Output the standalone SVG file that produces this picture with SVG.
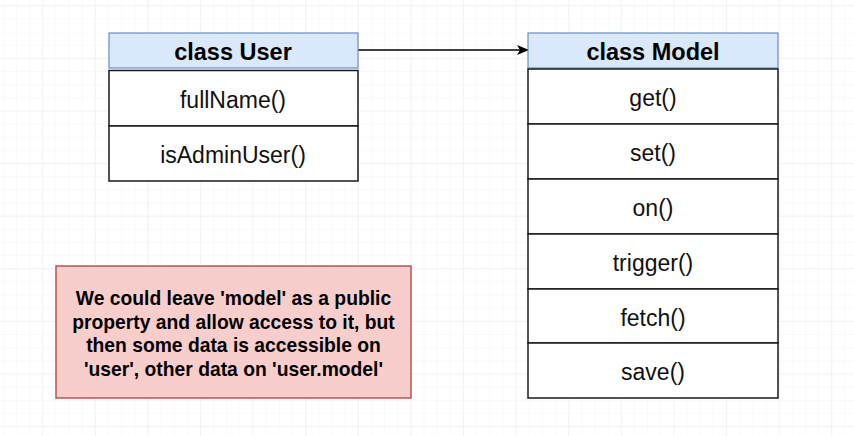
<svg xmlns="http://www.w3.org/2000/svg" width="854" height="436" viewBox="0 0 854 436">
  <defs>
    <pattern id="minor" x="2.75" y="5.3" width="13.15" height="13.15" patternUnits="userSpaceOnUse">
      <path d="M0 0H13.15M0 0V13.15" fill="none" stroke="#f4f4f4" stroke-width="1"/>
    </pattern>
    <pattern id="major" x="42.2" y="5.3" width="52.6" height="52.6" patternUnits="userSpaceOnUse">
      <path d="M0 0H52.6M0 0V52.6" fill="none" stroke="#ebebeb" stroke-width="1"/>
    </pattern>
    <marker id="arrow" markerWidth="12" markerHeight="10" refX="11" refY="5" orient="auto" markerUnits="userSpaceOnUse">
      <path d="M0 0 L12 5 L0 10 L3 5 Z" fill="#000"/>
    </marker>
    <style>
      .hdr { fill: #dae8fc; stroke: #6c8ebf; stroke-width: 1.2; }
      .row { fill: #ffffff; stroke: #1a1a1a; stroke-width: 1.5; }
      .htxt { font-family: "Liberation Sans", Arial, sans-serif; font-weight: bold; font-size: 23.5px; fill: #000; text-anchor: middle; }
      .mtxt { font-family: "Liberation Sans", Arial, sans-serif; font-size: 23px; fill: #111; text-anchor: middle; }
      .note { fill: #f8cecc; stroke: #b85450; stroke-width: 1.5; }
      .ntxt { font-family: "Liberation Sans", Arial, sans-serif; font-weight: bold; font-size: 19.3px; fill: #000; text-anchor: middle; }
    </style>
  </defs>
  <rect width="854" height="436" fill="#ffffff"/>
  <rect width="854" height="436" fill="url(#minor)"/>
  <rect width="854" height="436" fill="url(#major)"/>

  <g id="connectors">
    <line x1="358" y1="50" x2="528" y2="50" stroke="#000" stroke-width="1.5" marker-end="url(#arrow)"/>
  </g>

  <g id="user">
    <rect class="hdr" x="109" y="33" width="249" height="35"/>
    <text class="htxt" x="233" y="59.5">class User</text>
    <rect class="row" x="109" y="70.5" width="249" height="55.5"/>
    <text class="mtxt" x="233" y="107.5">fullName()</text>
    <rect class="row" x="109" y="126" width="249" height="55"/>
    <text class="mtxt" x="233" y="162.5">isAdminUser()</text>
  </g>

  <g id="model">
    <rect class="hdr" x="528" y="33" width="250" height="35"/>
    <text class="htxt" x="653" y="59.5">class Model</text>
    <rect class="row" x="528" y="69" width="250" height="55"/>
    <text class="mtxt" x="653" y="105.5">get()</text>
    <rect class="row" x="528" y="124" width="250" height="55"/>
    <text class="mtxt" x="653" y="160.5">set()</text>
    <rect class="row" x="528" y="179" width="250" height="55"/>
    <text class="mtxt" x="653" y="215.5">on()</text>
    <rect class="row" x="528" y="234" width="250" height="55"/>
    <text class="mtxt" x="653" y="270.5">trigger()</text>
    <rect class="row" x="528" y="289" width="250" height="54"/>
    <text class="mtxt" x="653" y="325.5">fetch()</text>
    <rect class="row" x="528" y="343" width="250" height="55"/>
    <text class="mtxt" x="653" y="379.5">save()</text>
  </g>

  <g id="note">
    <rect class="note" x="56" y="266" width="355" height="132"/>
    <text class="ntxt" x="233.5" y="305">We could leave 'model' as a public</text>
    <text class="ntxt" x="233.5" y="328.5">property and allow access to it, but</text>
    <text class="ntxt" x="233.5" y="352">then some data is accessible on</text>
    <text class="ntxt" x="233.5" y="375.5">'user', other data on 'user.model'</text>
  </g>
</svg>
